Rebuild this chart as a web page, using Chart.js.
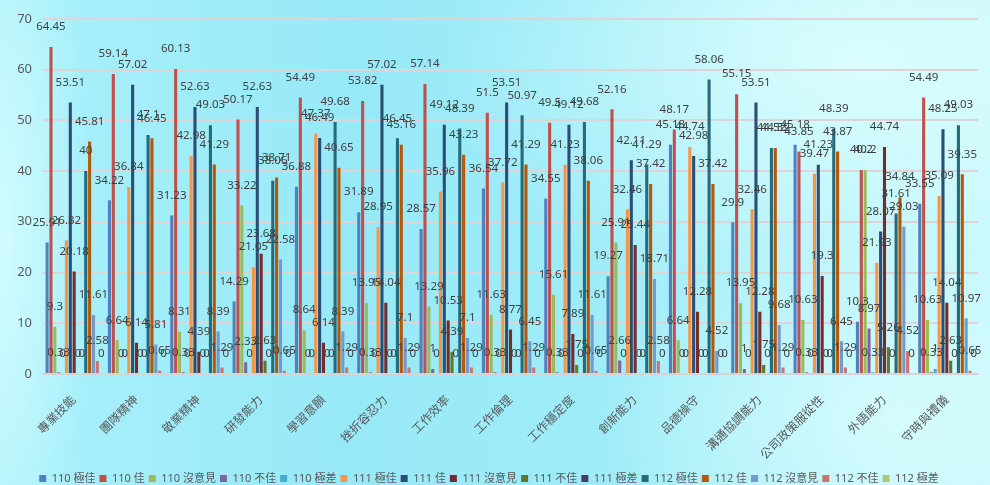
<!DOCTYPE html>
<html>
<head>
<meta charset="utf-8">
<script src="https://cdn.jsdelivr.net/npm/chart.js@4/dist/chart.umd.min.js"></script>
<style>
  html, body { margin: 0; padding: 0; }
  body {
    width: 990px; height: 485px; overflow: hidden;
    background:
      radial-gradient(ellipse 420px 260px at 860px 60px, rgba(225,255,255,0.85), rgba(225,255,255,0) 100%),
      radial-gradient(ellipse 300px 200px at 900px 420px, rgba(225,255,255,0.7), rgba(225,255,255,0) 100%),
      radial-gradient(ellipse 90px 400px at 0px 240px, rgba(220,255,255,0.8), rgba(220,255,255,0) 100%),
      linear-gradient(90deg, #aaf1fb 0%, #98e9f8 35%, #9eecf8 60%, #c3f7fb 100%);
  }
  #wrap { position: relative; width: 990px; height: 485px; }
</style>
</head>
<body>
<div id="wrap"><canvas id="c" width="990" height="485"></canvas></div>
<script>
// Survey categories (employer ratings of graduates)
const categories = ['專業技能','團隊精神','敬業精神','研發能力','學習意願','挫折容忍力','工作效率','工作倫理','工作穩定度','創新能力','品德操守','溝通協調能力','公司政策服從性','外語能力','守時與禮儀'];

// Percentages per rating, by academic year
const y110_excellent = [25.91,34.22,31.23,14.29,36.88,31.89,28.57,36.54,34.55,19.27,45.18,29.9,45.18,10.3,33.55];
const y110_good      = [64.45,59.14,60.13,50.17,54.49,53.82,57.14,51.5,49.5,52.16,48.17,55.15,43.85,40.2,54.49];
const y110_neutral   = [9.3,6.64,8.31,33.22,8.64,13.95,13.29,11.63,15.61,25.91,6.64,13.95,10.63,40.2,10.63];
const y110_poor      = [0.33,0,0.33,2.33,0,0.33,1,0.33,0.33,2.66,0,1,0.33,8.97,0.33];
const y110_bad       = [0,0,0,0,0,0,0,0,0,0,0,0,0,0.33,1];

const y111_excellent = [26.32,36.84,42.98,21.05,47.37,28.95,35.96,37.72,41.23,32.46,44.74,32.46,39.47,21.93,35.09];
const y111_good      = [53.51,57.02,52.63,52.63,46.49,57.02,49.12,53.51,49.12,42.11,42.98,53.51,41.23,28.07,48.25];
const y111_neutral   = [20.18,6.14,4.39,23.68,6.14,14.04,10.53,8.77,7.89,25.44,12.28,12.28,19.3,44.74,14.04];
const y111_poor      = [0,0,0,2.63,0,0,4.39,0,1.75,0,0,1.75,0,5.26,2.63];
const y111_bad       = [0,0,0,0,0,0,0,0,0,0,0,0,0,0,0];

const y112_excellent = [40,47.1,49.03,38.06,49.68,46.45,48.39,50.97,49.68,41.29,58.06,44.52,48.39,31.61,49.03];
const y112_good      = [45.81,46.45,41.29,38.71,40.65,45.16,43.23,41.29,38.06,37.42,37.42,44.52,43.87,34.84,39.35];
const y112_neutral   = [11.61,5.81,8.39,22.58,8.39,7.1,7.1,6.45,11.61,18.71,4.52,9.68,6.45,29.03,10.97];
const y112_poor      = [2.58,0.65,1.29,0.65,1.29,1.29,1.29,1.29,0.65,2.58,0,1.29,1.29,4.52,0.65];
const y112_bad       = [0,0,0,0,0,0,0,0,0,0,0,0,0,0,0];

const yTicks = [0,10,20,30,40,50,60,70];

const seriesDefs = [
  ['110 極佳', y110_excellent, '#4F81BD'],
  ['110 佳', y110_good, '#C0504D'],
  ['110 沒意見', y110_neutral, '#9BBB59'],
  ['110 不佳', y110_poor, '#8064A2'],
  ['110 極差', y110_bad, '#4BACC6'],
  ['111 極佳', y111_excellent, '#F79646'],
  ['111 佳', y111_good, '#2C4D75'],
  ['111 沒意見', y111_neutral, '#772C2A'],
  ['111 不佳', y111_poor, '#5F7530'],
  ['111 極差', y111_bad, '#4D3B62'],
  ['112 極佳', y112_excellent, '#276A7C'],
  ['112 佳', y112_good, '#B65708'],
  ['112 沒意見', y112_neutral, '#729ACA'],
  ['112 不佳', y112_poor, '#CD7371'],
  ['112 極差', y112_bad, '#AFC97A']
];

const FONT = "'Noto Sans', 'Noto Sans CJK TC', sans-serif";

// Draws each bar's value, floated well above the bar top
const valueLabels = {
  id: 'valueLabels',
  afterDatasetsDraw(chart) {
    const ctx = chart.ctx;
    ctx.save();
    ctx.font = '11.5px ' + FONT;
    ctx.fillStyle = '#404040';
    ctx.textAlign = 'center';
    ctx.textBaseline = 'middle';
    chart.data.datasets.forEach((ds, i) => {
      const meta = chart.getDatasetMeta(i);
      if (meta.hidden) return;
      meta.data.forEach((bar, j) => {
        ctx.fillText(String(ds.data[j]), bar.x, bar.y - 20);
      });
    });
    ctx.restore();
  }
};

new Chart(document.getElementById('c'), {
  type: 'bar',
  data: {
    labels: categories,
    datasets: seriesDefs.map(([label, data, color]) => ({
      label, data,
      backgroundColor: color,
      borderWidth: 0,
      categoryPercentage: 0.93,
      barPercentage: 0.8
    }))
  },
  options: {
    responsive: false,
    animation: false,
    devicePixelRatio: 1,
    layout: { padding: { left: 0, right: 12, top: 4, bottom: -9 } },
    plugins: {
      legend: {
        position: 'bottom',
        labels: {
          boxWidth: 7, boxHeight: 7, padding: 4,
          color: '#595959',
          font: { family: FONT, size: 11 }
        }
      },
      tooltip: { enabled: false }
    },
    scales: {
      x: {
        grid: { display: false, drawTicks: false },
        border: { color: '#d4d4d4', width: 2 },
        ticks: {
          color: '#595959',
          font: { family: FONT, size: 12 },
          maxRotation: 45, minRotation: 45,
          padding: 19
        },
        afterFit(scale) { scale.height = 95; }
      },
      y: {
        min: 0, max: 70,
        afterBuildTicks(scale) { scale.ticks = yTicks.map(v => ({ value: v })); },
        grid: { color: '#dcd4d6', lineWidth: 2, drawTicks: false },
        border: { display: false },
        ticks: {
          color: '#595959',
          font: { family: FONT, size: 13 },
          padding: 11
        },
        afterFit(scale) { scale.width = 43; }
      }
    }
  },
  plugins: [valueLabels]
});
</script>
</body>
</html>
